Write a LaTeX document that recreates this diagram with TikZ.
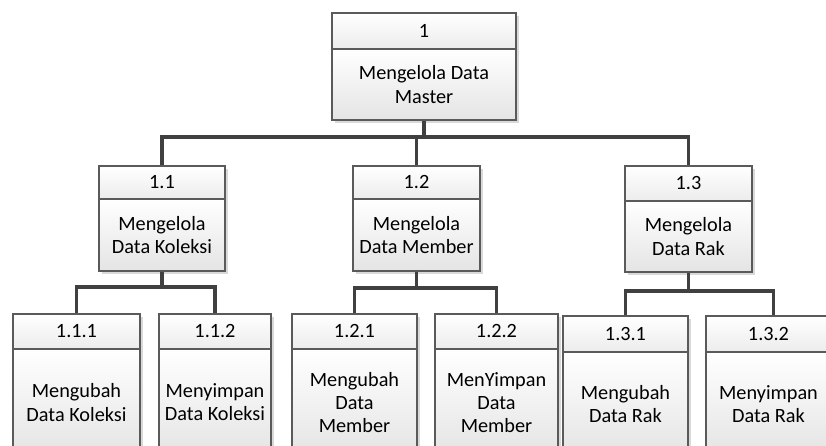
\documentclass[tikz,border=0pt]{standalone}
\usepackage{fontspec}
\setmainfont{Carlito}
\definecolor{linec}{HTML}{404040}
\definecolor{edgec}{HTML}{5A5A5A}
\definecolor{hdrfill}{HTML}{ECECEC}
\definecolor{bodyfill}{HTML}{E4E4E4}
\definecolor{shadowc}{HTML}{D9D9D9}
% A process box: header with the number, body with the name.
% #1 name, #2 left, #3 right, #4 top, #5 divider, #6 bottom, #7 number, #8 label
\newcommand\procbox[8]{%
  \pgfmathsetmacro\pbw{(#3-#2)*0.75}%
  \pgfmathsetmacro\phh{(#5-#4)*0.75}%
  \pgfmathsetmacro\pbh{(#6-#5)*0.75}%
  \fill[shadowc] (#2+3,#4+3) rectangle (#3+3,#6+3);
  \node[part, top color=white, bottom color=hdrfill, minimum width=\pbw pt, minimum height=\phh pt]
    (#1h) at ({(#2+#3)/2},{(#4+#5)/2}) {#7};
  \node[part, top color=white, bottom color=bodyfill, minimum width=\pbw pt, minimum height=\pbh pt]
    (#1b) at ({(#2+#3)/2},{(#5+#6)/2}) {#8};
}
\begin{document}
\begin{tikzpicture}[x=0.75pt,y=-0.75pt,
  conn/.style={draw=linec, line width=2.3pt, line join=miter},
  part/.style={draw=edgec, line width=0.9pt, inner sep=0pt, align=center,
    font=\fontsize{15.2}{17.4}\selectfont, text=black}]
\useasboundingbox (0,0) rectangle (826,446);
\clip (0,0) rectangle (826,446);

% junction levels
\coordinate (j0) at (424,137);
\coordinate (j1) at (161,287);
\coordinate (j2) at (417,288);
\coordinate (j3) at (688,291);

% boxes
\procbox{n1}{332}{516}{13}{49}{120}{1}{Mengelola Data\\Master}
\procbox{n11}{99}{225}{166}{199}{271}{1.1}{Mengelola\\Data Koleksi}
\procbox{n12}{353}{480}{166}{199}{271}{1.2}{Mengelola\\Data Member}
\procbox{n13}{625}{752}{166}{201}{272}{1.3}{Mengelola\\Data Rak}
\procbox{n111}{13}{140}{314}{349}{456}{1.1.1}{Mengubah\\Data Koleksi}
\procbox{n112}{159}{271}{314}{349}{456}{1.1.2}{Menyimpan\\Data Koleksi}
\procbox{n121}{292}{417}{314}{349}{456}{1.2.1}{Mengubah\\Data\\Member}
\procbox{n122}{435}{558}{314}{349}{456}{1.2.2}{MenYimpan\\Data\\Member}
\procbox{n131}{563}{688}{316}{352}{456}{1.3.1}{Mengubah\\Data Rak}
\procbox{n132}{706}{831}{316}{352}{456}{1.3.2}{Menyimpan\\Data Rak}

% connectors
\draw[conn] (n1b.south) -- (n1b.south |- j0);
\draw[conn] (n11h.north) |- (n13h.north |- j0) -- (n13h.north);
\draw[conn] (n12h.north) -- (n12h.north |- j0);

\draw[conn] (n11b.south) -- (n11b.south |- j1);
\draw[conn] (n111h.north) |- (n112h.north |- j1) -- (n112h.north);

\draw[conn] (n12b.south) -- (n12b.south |- j2);
\draw[conn] (n121h.north) |- (n122h.north |- j2) -- (n122h.north);

\draw[conn] (n13b.south) -- (n13b.south |- j3);
\draw[conn] (n131h.north) |- ([xshift=3.5pt]n132h.north |- j3) -- ([xshift=3.5pt]n132h.north);
\end{tikzpicture}
\end{document}
